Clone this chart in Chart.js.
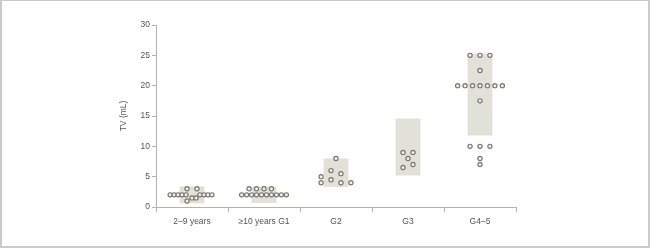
<!DOCTYPE html>
<html>
<head>
<meta charset="utf-8">
<script src="https://cdn.jsdelivr.net/npm/chart.js@4/dist/chart.umd.min.js"></script>
<style>
  html, body { margin: 0; padding: 0; background: #fff; }
  #wrap { width: 650px; height: 248px; box-sizing: border-box; border: 2px solid #cbcbc3; border-top-width: 1px; background: #fff; }
  canvas { display: block; }
</style>
</head>
<body>
<div id="wrap"><canvas id="c" width="646" height="245"></canvas></div>
<script>
// ---- Data ----
const categories = ['2–9 years', '≥10 years G1', 'G2', 'G3', 'G4–5'];
const rangeLow  = [0.6, 0.65, 3.3, 5.2, 11.8];
const rangeHigh = [3.4, 3.35, 8.0, 14.6, 25.3];

// individual TV values per group, with dodge slot (side-by-side position of overlapping dots)
const tv_2to9   = [3, 3, 2, 2, 2, 2, 2, 2, 2, 2, 2, 1.5, 1.5, 1];
const slot_2to9 = [-1, 1, -4.4, -3.6, -2.8, -2, -1.2, 1.6, 2.4, 3.2, 4, 0, 0.8, -1];
const tv_G1     = [3, 3, 3, 3, 2, 2, 2, 2, 2, 2, 2, 2, 2, 2];
const slot_G1   = [-3, -1.5, 0, 1.5, -4.5, -3.5, -2.5, -1.5, -0.5, 0.5, 1.5, 2.5, 3.5, 4.5];
const tv_G2     = [8, 6, 5.5, 5, 4.5, 4, 4, 4];
const slot_G2   = [0, -1, 1, -3, -1, -3, 1, 3];
const tv_G3     = [9, 9, 8, 7, 6.5];
const slot_G3   = [-1, 1, 0, 1, -1];
const tv_G45    = [25, 25, 25, 22.5, 20, 20, 20, 20, 20, 20, 20, 17.5, 10, 10, 10, 8, 7];
const slot_G45  = [-2, 0, 2, 0, -4.5, -3, -1.5, 0, 1.5, 3, 4.5, 0, -2, 0, 2, 0, 0];

const yTicks = [0, 5, 10, 15, 20, 25, 30];

// ---- Build ----
const groups = [[tv_2to9, slot_2to9], [tv_G1, slot_G1], [tv_G2, slot_G2], [tv_G3, slot_G3], [tv_G45, slot_G45]];
const SLOT = 0.069; // width of one dodge slot, in category units
const points = [];
groups.forEach(([vals, slots], i) => {
  vals.forEach((v, j) => points.push({ x: i + slots[j] * SLOT, y: v }));
});

const textColor = '#555555';
const axisColor = '#b3b3ab';
const font = { family: 'Liberation Sans, Arial, sans-serif', size: 8.5 };

new Chart(document.getElementById('c'), {
  type: 'bar',
  data: {
    labels: categories,
    datasets: [
      {
        type: 'bar',
        data: rangeLow.map((lo, i) => [lo, rangeHigh[i]]),
        backgroundColor: '#e1e0d9',
        borderWidth: 0,
        grouped: false,
        barPercentage: 0.345,
        categoryPercentage: 1,
        order: 2
      },
      {
        type: 'scatter',
        data: points,
        xAxisID: 'x2',
        pointRadius: 2.1,
        pointBorderWidth: 1.2,
        pointBorderColor: '#77776f',
        pointBackgroundColor: '#f2f2ee',
        order: 1
      }
    ]
  },
  options: {
    responsive: false,
    animation: false,
    layout: { padding: { top: 24, right: 132, bottom: 0, left: 114 } },
    plugins: { legend: { display: false }, tooltip: { enabled: false } },
    scales: {
      x: {
        type: 'category',
        offset: true,
        border: { display: true, color: axisColor, width: 1 },
        grid: { offset: true, drawOnChartArea: false, drawTicks: true, tickLength: 5, color: axisColor },
        ticks: { color: textColor, font: font, padding: 5, maxRotation: 0 },
        afterFit: (s) => { s.height = 39; }
      },
      x2: {
        type: 'linear',
        display: false,
        offset: false,
        grid: { offset: false },
        min: -0.5,
        max: 4.5
      },
      y: {
        min: 0,
        max: 30,
        afterBuildTicks: (s) => { s.ticks = yTicks.map(v => ({ value: v })); },
        border: { display: true, color: axisColor, width: 1 },
        grid: { drawOnChartArea: false, drawTicks: true, tickLength: 4, color: axisColor },
        ticks: { color: textColor, font: font, padding: 2 },
        title: { display: true, text: 'TV (mL)', color: textColor, font: font, padding: { top: 3, bottom: 0 } },
        afterFit: (s) => { s.width = 40; }
      }
    }
  }
});
</script>
</body>
</html>
